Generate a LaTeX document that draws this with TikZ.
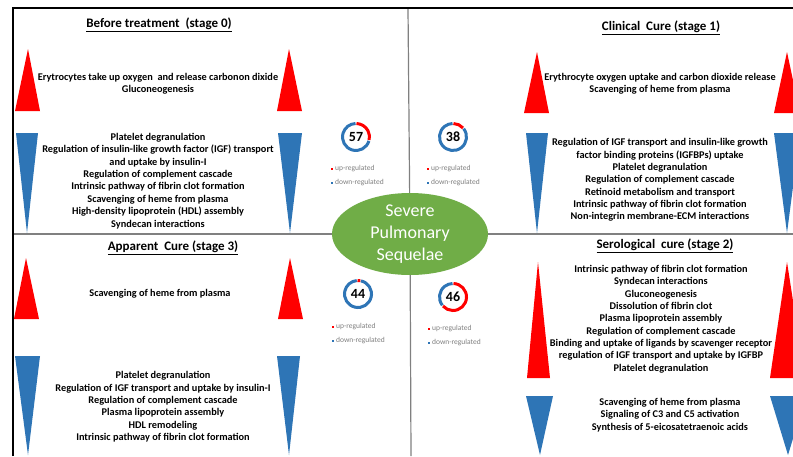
\documentclass[tikz,border=0pt]{standalone}
\usepackage{fontspec}
\setmainfont{Carlito}
\usetikzlibrary{shapes.geometric}
\definecolor{upred}{HTML}{FF0000}
\definecolor{downblue}{HTML}{2E75B6}
\definecolor{sevgreen}{HTML}{70AD47}
\definecolor{leggray}{HTML}{808080}
\begin{document}
\begin{tikzpicture}[x=1pt,y=-1pt,
  body/.style={align=center,font=\bfseries\fontsize{10.3}{12.35}\selectfont,inner sep=0pt},
  ttl/.style={font=\bfseries\fontsize{13}{15}\selectfont,inner sep=0pt},
  leg/.style={font=\fontsize{7.5}{9}\selectfont,text=leggray,anchor=west,inner sep=0pt},
  num/.style={font=\bfseries\fontsize{14}{16}\selectfont,inner sep=0pt},
  uptri/.style={fill=upred},
  downtri/.style={fill=downblue},
  sepline/.style={draw=gray,line width=1.2pt},
  border/.style={draw=black,line width=2pt},
  ringup/.style={draw=upred,line width=3pt},
  ringdown/.style={draw=downblue,line width=3pt}]

\useasboundingbox (0,0) rectangle (793,456);
\clip (0,0) rectangle (793,456);
\fill[white] (0,0) rectangle (793,456);

% separators
\coordinate (hl) at (13,234);
\coordinate (hr) at (793,234);
\coordinate (vt) at (408,8);
\coordinate (vb) at (411,456);
\coordinate (bl) at (13,456);
\coordinate (tl) at (13,8);
\coordinate (tr) at (793,8);

\node[ellipse,fill=sevgreen,minimum width=156pt,minimum height=78pt,inner sep=0pt,
      align=center,text=white,font=\fontsize{18}{21.7}\selectfont] (sev) at (410,234)
      {Severe\\Pulmonary\\Sequelae};
\draw[sepline] (hl) -- (sev);
\draw[sepline] (hr) -- (sev);
\draw[sepline] (vt) -- (sev);
\draw[sepline] (vb) -- (sev);
\draw[border] (bl) -- (tl) -- (tr);

% ---------- stage 0 (top-left)
\fill[uptri] (15,111) -- (28,49) -- (40,111) -- cycle;
\fill[uptri] (277,111) -- (289,49) -- (302,111) -- cycle;
\fill[downtri] (16,133) -- (38,133) -- (27,233) -- cycle;
\fill[downtri] (278,133) -- (302,133) -- (290,233) -- cycle;
\node[ttl] (t0) at (159,25) {\underline{Before treatment\ \ (stage 0)}};
\node[body] (u0) at (158,84) {Erytrocytes take up oxygen\ \ and release carbonon dixide\\Gluconeogenesis};
\node[body] (d0) at (158,181) {Platelet degranulation\\Regulation of insulin-like growth factor (IGF) transport\\and uptake by insulin-I\\Regulation of complement cascade\\Intrinsic pathway of fibrin clot formation\\Scavenging of heme from plasma\\High-density lipoprotein (HDL) assembly\\Syndecan interactions};

% ---------- stage 1 (top-right)
\fill[uptri] (524,113) -- (537,52) -- (549,113) -- cycle;
\fill[uptri] (774,113) -- (787,52) -- (800,113) -- cycle;
\fill[downtri] (526,133) -- (548,133) -- (537,233) -- cycle;
\fill[downtri] (774,133) -- (800,133) -- (787,233) -- cycle;
\node[ttl] (t1) at (661,28) {\underline{Clinical\ \ Cure (stage 1)}};
\node[body] (u1) at (660,84) {Erythrocyte oxygen uptake and carbon dioxide release\\Scavenging of heme from plasma};
\node[body] (d1) at (660,180) {Regulation of IGF transport and insulin-like growth\\factor binding proteins (IGFBPs) uptake\\Platelet degranulation\\Regulation of complement cascade\\Retinoid metabolism and transport\\Intrinsic pathway of fibrin clot formation\\Non-integrin membrane-ECM interactions};

% ---------- stage 3 (bottom-left)
\fill[uptri] (14,319) -- (26,258) -- (39,319) -- cycle;
\fill[uptri] (278,319) -- (290,258) -- (303,319) -- cycle;
\fill[downtri] (15,356) -- (40,356) -- (28,455) -- cycle;
\fill[downtri] (277,356) -- (300,356) -- (289,455) -- cycle;
\node[ttl] (t3) at (173,248) {\underline{Apparent\ \ Cure (stage 3)}};
\node[body] (u3) at (160,294) {Scavenging of heme from plasma};
\node[body] (d3) at (163,407) {Platelet degranulation\\Regulation of IGF transport and uptake by insulin-I\\Regulation of complement cascade\\Plasma lipoprotein assembly\\HDL remodeling\\Intrinsic pathway of fibrin clot formation};

% ---------- stage 2 (bottom-right)
\fill[uptri] (527,378) -- (538,262) -- (550,378) -- cycle;
\fill[uptri] (770,378) -- (787,262) -- (805,378) -- cycle;
\fill[downtri] (526,396) -- (553,396) -- (540,455) -- cycle;
\fill[downtri] (770,396) -- (806,396) -- (788,455) -- cycle;
\node[ttl] (t2) at (665,246) {\underline{Serological\ \ cure (stage 2)}};
\node[body] (u2) at (661,319) {Intrinsic pathway of fibrin clot formation\\Syndecan interactions\\Gluconeogenesis\\Dissolution of fibrin clot\\Plasma lipoprotein assembly\\Regulation of complement cascade\\Binding and uptake of ligands by scavenger receptor\\regulation of IGF transport and uptake by IGFBP\\Platelet degranulation};
\node[body] (d2) at (670,415) {Scavenging of heme from plasma\\Signaling of C3 and C5 activation\\Synthesis of 5-eicosatetraenoic acids};

% ---------- counters (angles negated because y points down)
% 57
\draw[ringup] (356,137) ++(-88:13.5) arc[start angle=-88,end angle=13,radius=13.5];
\draw[ringdown] (356,137) ++(17:13.5) arc[start angle=17,end angle=268,radius=13.5];
\node[num] (n57) at (356,137) {57};
% 38
\draw[ringup] (453,137) ++(-88:13.5) arc[start angle=-88,end angle=-42,radius=13.5];
\draw[ringdown] (453,137) ++(-38:13.5) arc[start angle=-38,end angle=268,radius=13.5];
\node[num] (n38) at (453,137) {38};
% 44
\draw[ringup] (358,294) ++(-92:13.5) arc[start angle=-92,end angle=-80,radius=13.5];
\draw[ringdown] (358,294) ++(-77:13.5) arc[start angle=-77,end angle=265,radius=13.5];
\node[num] (n44) at (358,294) {44};
% 46
\draw[ringup] (453,297) ++(-88:13.5) arc[start angle=-88,end angle=138,radius=13.5];
\draw[ringdown] (453,297) ++(142:13.5) arc[start angle=142,end angle=268,radius=13.5];
\node[num] (n46) at (453,297) {46};

% ---------- legends
\fill[upred] (331,167.8) rectangle +(2.4,2.4);
\node[leg] (l57u) at (335,169) {up-regulated};
\fill[downblue] (331,181.8) rectangle +(2.4,2.4);
\node[leg] (l57d) at (335,183) {down-regulated};

\fill[upred] (427,167.8) rectangle +(2.4,2.4);
\node[leg] (l38u) at (431,169) {up-regulated};
\fill[downblue] (427,181.8) rectangle +(2.4,2.4);
\node[leg] (l38d) at (431,183) {down-regulated};

\fill[upred] (332,325.8) rectangle +(2.4,2.4);
\node[leg] (l44u) at (336,327) {up-regulated};
\fill[downblue] (332,339.8) rectangle +(2.4,2.4);
\node[leg] (l44d) at (336,341) {down-regulated};

\fill[upred] (428,327.8) rectangle +(2.4,2.4);
\node[leg] (l46u) at (432,329) {up-regulated};
\fill[downblue] (428,341.8) rectangle +(2.4,2.4);
\node[leg] (l46d) at (432,343) {down-regulated};
\end{tikzpicture}
\end{document}
